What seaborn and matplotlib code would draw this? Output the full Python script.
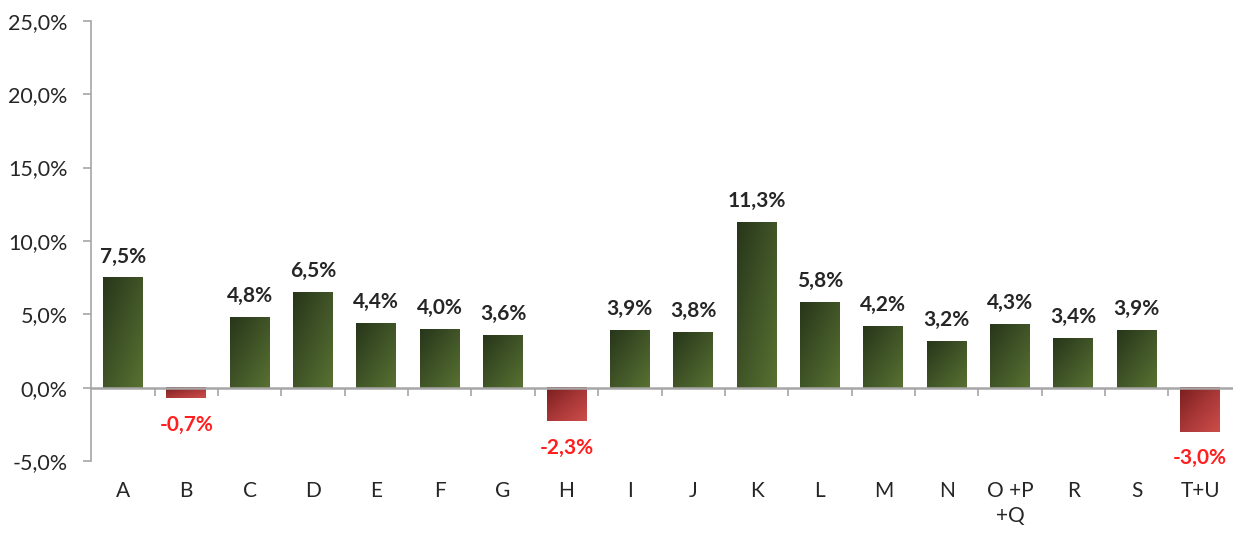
import numpy as np
import pandas as pd
import seaborn as sns
from matplotlib import pyplot as plt
from matplotlib.colors import LinearSegmentedColormap

# values (% change per sector)
categories = ['A', 'B', 'C', 'D', 'E', 'F', 'G', 'H', 'I', 'J', 'K', 'L', 'M', 'N', 'O +P\n+Q', 'R', 'S', 'T+U']
values = [7.5, -0.7, 4.8, 6.5, 4.4, 4.0, 3.6, -2.3, 3.9, 3.8, 11.3, 5.8, 4.2, 3.2, 4.3, 3.4, 3.9, -3.0]
y_ticks = [-5, 0, 5, 10, 15, 20, 25]

GREEN = LinearSegmentedColormap.from_list('g', ['#27361a', '#405427', '#587131'])
RED = LinearSegmentedColormap.from_list('r', ['#7a1e1e', '#a83737', '#cc4d4a'])


def fmt(v):
    return f'{v:.1f}%'.replace('.', ',')


sns.set_theme(style='white')
plt.rcParams['font.family'] = ['Lato', 'DejaVu Sans']

df = pd.DataFrame({'sector': categories, 'value': values})

fig = plt.figure(figsize=(12.33, 5.33), dpi=100)
ax = fig.add_axes([0.074, 0.135, 0.925, 0.826])

sns.barplot(data=df, x='sector', y='value', color='#3f5226', width=0.63, ax=ax, zorder=2)

# diagonal gradient fill on each bar (dark top-left -> light bottom-right)
gx, gy = np.meshgrid(np.linspace(0, 1, 60), np.linspace(0, 1, 60))
grad = (gx + gy) / 2
for patch, v in zip(ax.patches, values):
    x0, w = patch.get_x(), patch.get_width()
    y0, h = patch.get_y(), patch.get_height()
    lo, hi = min(y0, y0 + h), max(y0, y0 + h)
    cmap = GREEN if v >= 0 else RED
    ax.imshow(grad, cmap=cmap, extent=(x0, x0 + w, lo, hi), origin='upper',
              aspect='auto', zorder=3, interpolation='bicubic')
    patch.set_visible(False)

ax.set_ylim(-5, 25)
ax.set_xlim(-0.5, len(categories) - 0.5)

# value labels
for i, v in enumerate(values):
    if v >= 0:
        ax.annotate(fmt(v), (i, v), xytext=(0, 8), textcoords='offset points',
                    ha='center', va='bottom', fontsize=15, fontweight='bold', color='#262626')
    else:
        ax.annotate(fmt(v), (i, v), xytext=(0, -12), textcoords='offset points',
                    ha='center', va='top', fontsize=15, fontweight='bold', color='#ff1f1f')

# axes styling
axis_col = '#a6a6a6'
for s in ['top', 'right']:
    ax.spines[s].set_visible(False)
ax.spines['left'].set_color(axis_col)
ax.spines['left'].set_linewidth(1.2)
ax.spines['bottom'].set_position(('data', 0))
ax.spines['bottom'].set_color(axis_col)
ax.spines['bottom'].set_linewidth(1.8)
ax.spines['bottom'].set_zorder(4)

ax.set_yticks(y_ticks)
ax.set_yticklabels([fmt(t) for t in y_ticks])
ax.tick_params(axis='y', direction='out', length=6, width=1.2, color=axis_col,
               labelsize=15.5, labelcolor='#262626', left=True, pad=11)

ax.set_xticks(range(len(categories)))
ax.set_xticklabels(categories, va='top', linespacing=1.35)
ax.set_xticks(np.arange(0.5, len(categories) - 0.5, 1), minor=True)
ax.tick_params(axis='x', which='major', length=0, labelsize=15, labelcolor='#262626', pad=67)
ax.tick_params(axis='x', which='minor', direction='out', length=6, width=1.2, color=axis_col, bottom=True)
ax.set_xlabel('')
ax.set_ylabel('')

fig.savefig('out.png', dpi=100)
